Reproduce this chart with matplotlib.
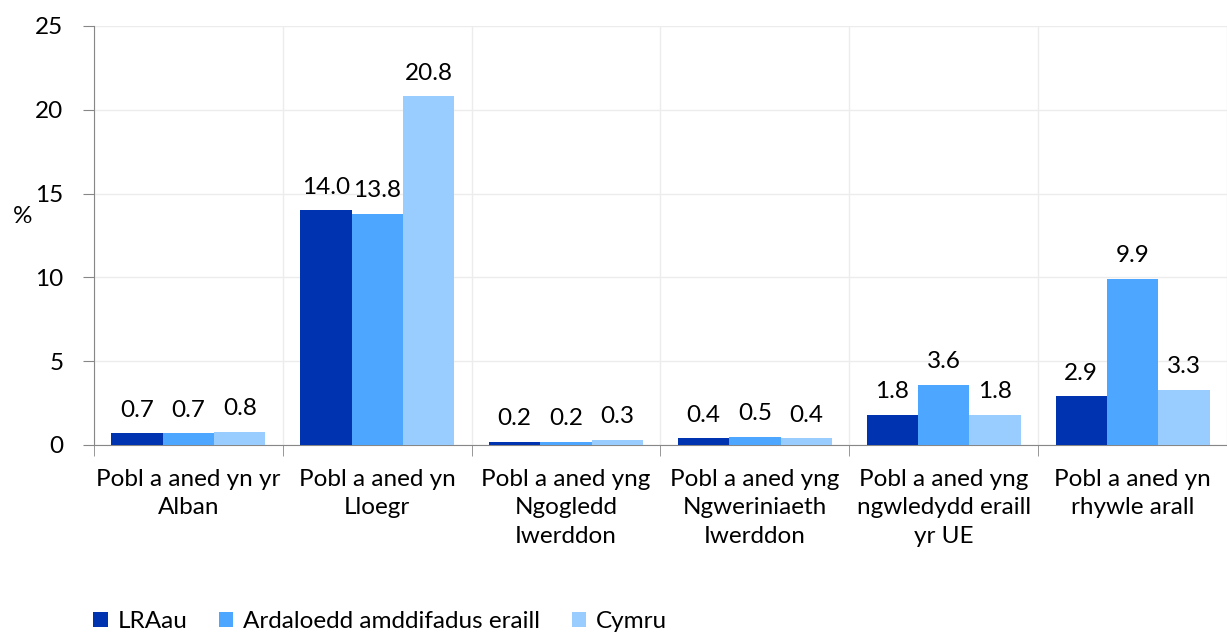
import matplotlib.pyplot as plt
import numpy as np

# Data
categories = [
    'Pobl a aned yn yr\nAlban',
    'Pobl a aned yn\nLloegr',
    'Pobl a aned yng\nNgogledd\nIwerddon',
    'Pobl a aned yng\nNgweriniaeth\nIwerddon',
    'Pobl a aned yng\nngwledydd eraill\nyr UE',
    'Pobl a aned yn\nrhywle arall',
]
series_names = ['LRAau', 'Ardaloedd amddifadus eraill', 'Cymru']
lraau = [0.7, 14.0, 0.2, 0.4, 1.8, 2.9]
ardaloedd = [0.7, 13.8, 0.2, 0.5, 3.6, 9.9]
cymru = [0.8, 20.8, 0.3, 0.4, 1.8, 3.3]
colors = ['#0033b0', '#4da6ff', '#99ccff']

plt.rcParams['font.family'] = ['Lato', 'DejaVu Sans']
fs = 17.5

fig = plt.figure(figsize=(12.27, 6.32), dpi=100)
ax = fig.add_axes([0.0766, 0.296, 0.9234, 0.663])

x = np.arange(len(categories))
width = 0.272
all_series = [lraau, ardaloedd, cymru]
for i, (vals, name, col) in enumerate(zip(all_series, series_names, colors)):
    bars = ax.bar(x + (i - 1) * width, vals, width, color=col, label=name, zorder=3)
    ax.bar_label(bars, labels=[f'{v:.1f}' for v in vals], padding=9, fontsize=fs)

ax.set_xlim(-0.5, len(categories) - 0.5)
ax.set_ylim(0, 25)
ax.set_yticks(np.arange(0, 26, 5))
ax.set_xticks(x)
ax.set_xticklabels(categories, fontsize=fs, linespacing=1.45)
ax.set_xticks(np.arange(-0.5, len(categories), 1), minor=True)

ax.tick_params(axis='x', which='major', length=0, pad=17)
ax.tick_params(axis='x', which='minor', length=8, color='#878787', direction='out')
ax.tick_params(axis='y', labelsize=fs, length=8, color='#878787', pad=14)

ax.grid(True, axis='y', color='#ececec', linewidth=1, zorder=0)
ax.grid(True, axis='x', which='minor', color='#ececec', linewidth=1, zorder=0)

for s in ['top', 'right']:
    ax.spines[s].set_visible(False)
ax.spines['left'].set_color('#878787')
ax.spines['bottom'].set_color('#878787')

ax.set_ylabel('%', fontsize=fs, rotation=0)
ax.yaxis.set_label_coords(-0.063, 0.52)

fig.legend(loc='lower left', bbox_to_anchor=(0.058, -0.035), ncol=3, frameon=False,
           fontsize=fs, handlelength=0.6, handleheight=0.6, handletextpad=0.4,
           columnspacing=1.3)

fig.savefig('out.png', dpi=100)
